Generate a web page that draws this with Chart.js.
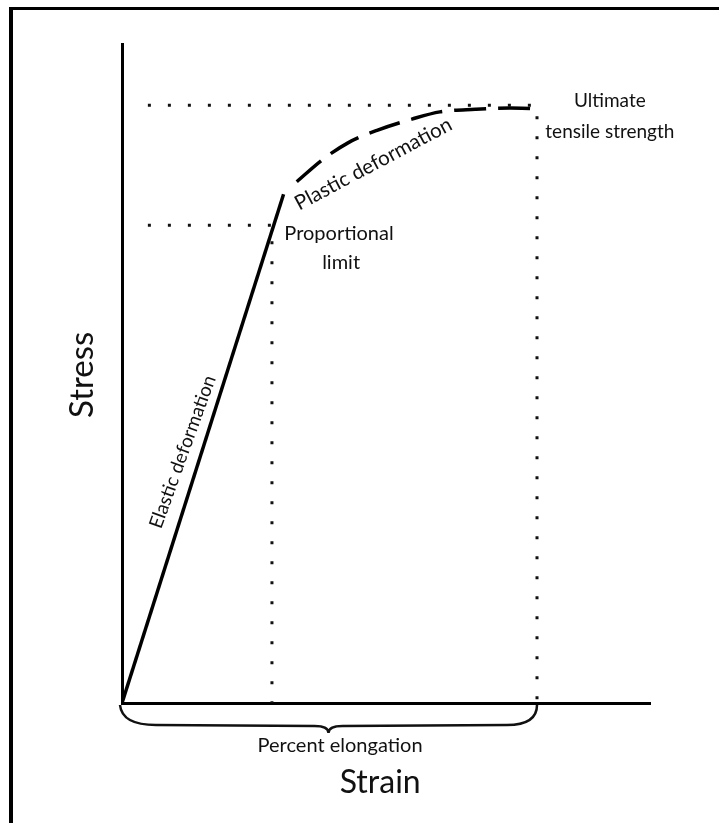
<!DOCTYPE html>
<html>
<head>
<meta charset="utf-8">
<script src="https://cdn.jsdelivr.net/npm/chart.js@4.4.1/dist/chart.umd.min.js"></script>
<style>
    html, body { margin: 0; padding: 0; background: #fff; }
    #wrap { position: relative; width: 719px; height: 823px; }
    #frame {
        position: absolute; left: 9px; top: 7px; right: 0; bottom: 0;
        border-left: 4px solid #000; border-top: 3px solid #000;
        pointer-events: none;
    }
    canvas { display: block; }
</style>
</head>
<body>
<div id="wrap">
    <canvas id="chart" width="719" height="823"></canvas>
    <div id="frame"></div>
</div>
<script>
// ============================================
// Stress-strain curve
// ============================================

// strain / stress in arbitrary units (0..100 on both axes)
const elasticStrain = [0, 30.6];
const elasticStress = [0, 77.2];

const plasticStrain = [33.1, 37.9, 42.8, 48.3, 54.9, 60.2, 66.9, 73.5, 78.6, 78.8];
const plasticStress = [79.1, 82.4, 85.0, 86.9, 88.6, 89.7, 90.1, 90.3, 90.1, 89.4];

// proportional limit and ultimate tensile strength
const propLimit = { strain: 28.4, stress: 72.5 };
const ultimate = { strain: 78.6, stress: 90.7 };
const guideStart = 4.9;

// text labels (data coords)
const labels = [
    { text: 'Proportional', x: 41.1, y: 71.3, size: 20 },
    { text: 'limit', x: 41.5, y: 66.8, size: 20 },
    { text: 'Ultimate', x: 92.4, y: 91.3, size: 19 },
    { text: 'tensile strength', x: 92.4, y: 86.6, size: 19 },
    { text: 'Plastic deformation', x: 47.6, y: 81.8, size: 20.5, rot: -28 },
    { text: 'Elastic deformation', x: 11.5, y: 38.1, size: 19, rot: -70 },
    { text: 'Percent elongation', x: 41.3, y: -6.4, size: 20 },
    { text: 'Strain', x: 48.9, y: -12.1, size: 32 },
    { text: 'Stress', x: -7.6, y: 49.8, size: 33, rot: -90 }
];

function toPoints(xs, ys) {
    return xs.map((x, i) => ({ x: x, y: ys[i] }));
}

// Draw the texts and the brace under the x axis
const annotations = {
    id: 'annotations',
    afterDatasetsDraw(chart) {
        const ctx = chart.ctx;
        const sx = chart.scales.x;
        const sy = chart.scales.y;

        ctx.save();
        ctx.fillStyle = '#111';
        ctx.textAlign = 'center';
        ctx.textBaseline = 'middle';
        labels.forEach(l => {
            ctx.save();
            ctx.translate(sx.getPixelForValue(l.x), sy.getPixelForValue(l.y));
            if (l.rot) ctx.rotate(l.rot * Math.PI / 180);
            ctx.font = l.size + 'px Lato, "Open Sans", sans-serif';
            ctx.fillText(l.text, 0, 0);
            ctx.restore();
        });

        // curly brace from origin to ultimate strain
        const x0 = sx.getPixelForValue(0) - 2;
        const x1 = sx.getPixelForValue(ultimate.strain);
        const top = sy.getPixelForValue(0) + 2;
        const mid = (x0 + x1) / 2;
        const low = top + 20;
        const tip = top + 28;
        ctx.strokeStyle = '#111';
        ctx.lineWidth = 2.5;
        ctx.beginPath();
        ctx.moveTo(x0, top);
        ctx.quadraticCurveTo(x0 + 2, low, x0 + 36, low);
        ctx.lineTo(mid - 14, low + 1);
        ctx.quadraticCurveTo(mid, low + 1, mid, tip);
        ctx.quadraticCurveTo(mid, low + 1, mid + 14, low + 1);
        ctx.lineTo(x1 - 30, low);
        ctx.quadraticCurveTo(x1, low, x1, top);
        ctx.stroke();
        ctx.restore();
    }
};

const dotted = {
    borderColor: '#111',
    borderWidth: 3,
    borderDash: [3, 17],
    pointRadius: 0,
    fill: false,
    tension: 0
};

new Chart(document.getElementById('chart'), {
    type: 'scatter',
    data: {
        datasets: [
            Object.assign({
                data: [
                    { x: guideStart, y: propLimit.stress },
                    { x: propLimit.strain, y: propLimit.stress },
                    { x: propLimit.strain, y: 0 }
                ],
                showLine: true
            }, dotted),
            Object.assign({
                data: [
                    { x: guideStart, y: ultimate.stress },
                    { x: ultimate.strain, y: ultimate.stress },
                    { x: ultimate.strain, y: 0 }
                ],
                showLine: true
            }, dotted),
            {
                data: toPoints(elasticStrain, elasticStress),
                showLine: true,
                borderColor: '#000',
                borderWidth: 3.5,
                pointRadius: 0
            },
            {
                data: toPoints(plasticStrain, plasticStress),
                showLine: true,
                borderColor: '#000',
                borderWidth: 3.5,
                borderDash: [32, 12],
                cubicInterpolationMode: 'monotone',
                pointRadius: 0
            }
        ]
    },
    options: {
        responsive: false,
        animation: false,
        layout: {
            autoPadding: false,
            padding: { left: 122, top: 44, right: 69, bottom: 120 }
        },
        plugins: {
            legend: { display: false },
            tooltip: { enabled: false }
        },
        scales: {
            x: {
                type: 'linear',
                min: 0,
                max: 100,
                ticks: { display: false },
                grid: { display: false, drawTicks: false },
                border: { display: true, width: 3, color: '#000' }
            },
            y: {
                type: 'linear',
                min: 0,
                max: 100,
                ticks: { display: false },
                grid: { display: false, drawTicks: false },
                border: { display: true, width: 3, color: '#000' }
            }
        }
    },
    plugins: [annotations]
});
</script>
</body>
</html>
